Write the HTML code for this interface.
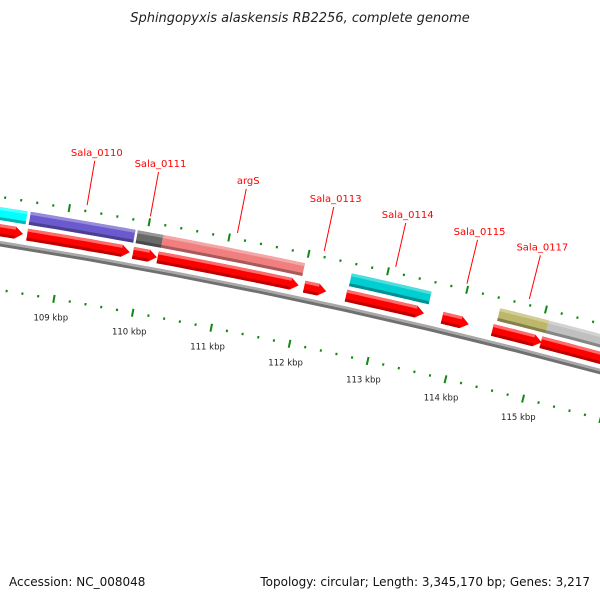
<!DOCTYPE html>
<html><head><meta charset="utf-8"><style>
html,body{margin:0;padding:0;background:#fff}
svg{display:block}
text{font-family:"DejaVu Sans","Liberation Sans",sans-serif}
</style></head><body>
<svg id="c" width="600" height="600" viewBox="0 0 600 600">
<rect width="600" height="600" fill="#fff"/>
<text x="300" y="22" text-anchor="middle" font-size="13" font-style="italic" fill="#222">Sphingopyxis alaskensis RB2256, complete genome</text>
<text x="9" y="586" font-size="12" fill="#111">Accession: NC_008048</text>
<text x="590" y="586" text-anchor="end" font-size="12" fill="#111">Topology: circular; Length: 3,345,170 bp; Genes: 3,217</text>
<g id="map"></g>
</svg>
<script>
// data (positions in kbp)
const geneStarts = [107.0, 108.54, 109.87, 110.18, 112.03, 112.56, 113.78, 114.42, 115.04];
const geneEnds   = [108.49, 109.83, 110.17, 111.96, 112.31, 113.55, 114.12, 115.05, 116.5];
const cogStarts = [107.0, 108.54, 109.88, 110.2, 112.57, 114.45, 115.07];
const cogEnds   = [108.5, 109.85, 110.2, 111.98, 113.58, 115.07, 116.5];
const cogColors = ["#00ffff", "#6a5acd", "#696969", "#f08080", "#00ced1", "#bdb76b", "#c0c0c0"];
const geneLabels = ["Sala_0110", "Sala_0111", "argS", "Sala_0113", "Sala_0114", "Sala_0115", "Sala_0117"];
const labelPos = [109.21, 110.0, 111.09, 112.18, 113.08, 113.98, 114.77];
const tickLabels = [109, 110, 111, 112, 113, 114, 115];

const NS = "http://www.w3.org/2000/svg";
const g = document.getElementById("map");
const PX = 80.6, K = 0.8 * Math.PI / 180, R = PX / K;
function phi(p) { return (12 * Math.PI / 180) + (p - 112) * K; }
const a0 = phi(110);
const C = [141 - R * Math.sin(a0), 267.5 + R * Math.cos(a0)];
function pt(p, d) { const f = phi(p); return [C[0] + (R + d) * Math.sin(f), C[1] - (R + d) * Math.cos(f)]; }
function mk(tag, attrs) { const e = document.createElementNS(NS, tag); for (const k in attrs) e.setAttribute(k, attrs[k]); g.appendChild(e); return e; }
function band(p1, p2, d1, d2) {
  const pts = []; const n = 12;
  for (let i = 0; i <= n; i++) pts.push(pt(p1 + (p2 - p1) * i / n, d2));
  for (let i = n; i >= 0; i--) pts.push(pt(p1 + (p2 - p1) * i / n, d1));
  return pts.map(q => q[0].toFixed(1) + "," + q[1].toFixed(1)).join(" ");
}
function shade(hex, f) {
  const n = parseInt(hex.slice(1), 16); let r = n >> 16, gg = (n >> 8) & 255, b = n & 255;
  if (f > 0) { r += (255 - r) * f; gg += (255 - gg) * f; b += (255 - b) * f; } else { r *= 1 + f; gg *= 1 + f; b *= 1 + f; }
  return "rgb(" + Math.round(r) + "," + Math.round(gg) + "," + Math.round(b) + ")";
}

// backbone
let e = mk("polygon", { points: band(105, 118, -3, 0), fill: "#707070" });


e = mk("polygon", { points: band(105, 118, 0, 2.5), fill: "#a8a8a8" });



// COG bands
for (let i = 0; i < cogStarts.length; i++) {
  const col = cogColors[i];
  let b = mk("polygon", { points: band(cogStarts[i], cogEnds[i], 23, 36), fill: col });
  
  
  b = mk("polygon", { points: band(cogStarts[i], cogEnds[i], 33, 36), fill: shade(col, 0.3) });
  
  
  b = mk("polygon", { points: band(cogStarts[i], cogEnds[i], 23, 26), fill: shade(col, -0.3) });
  
  
}

// gene arrows
const HEAD = 8 / PX;
for (let i = 0; i < geneStarts.length; i++) {
  const s = geneStarts[i], en = geneEnds[i], hs = Math.max(s, en - HEAD);
  const body = band(s, hs, 7, 19).split(" ");
  const tip = pt(en, 13);
  const half = body.length / 2;
  const pts = body.slice(0, half).concat([tip[0].toFixed(1) + "," + tip[1].toFixed(1)]).concat(body.slice(half));
  let a = mk("polygon", { points: pts.join(" "), fill: "#ff0000" });
  
  
  a = mk("polygon", { points: band(s, hs, 16, 19), fill: "#ff6a6a" });
  
  
  a = mk("polygon", { points: band(s, hs, 7, 10), fill: "#c00000" });
  
  
}

// ticks (every 0.2 kbp, major every 1 kbp)
for (let k = 530; k <= 590; k++) {
  const major = (k % 5 === 0);
  const p2 = k / 5;
  [46, -46].forEach(dc => {
    const l = major ? 4 : 1.2;
    const q1 = pt(p2, dc - l), q2 = pt(p2, dc + l);
    const t = mk("line", { x1: q1[0], y1: q1[1], x2: q2[0], y2: q2[1], stroke: "#118811", "stroke-width": 2 });
    
    
  });
}
tickLabels.forEach(v => {
  const q = pt(v, -65);
  const t = mk("text", { x: q[0], y: q[1] + 3, "text-anchor": "middle", "font-size": 8.5, fill: "#222" });
  t.textContent = v + " kbp";
  
  
});

// gene labels
for (let i = 0; i < geneLabels.length; i++) {
  const q1 = pt(labelPos[i], 52), q2 = pt(labelPos[i], 97);
  const l = mk("line", { x1: q1[0], y1: q1[1], x2: q2[0], y2: q2[1], stroke: "#ff0000", "stroke-width": 1 });
  
  
  const t = mk("text", { x: q2[0] + 2, y: q2[1] - 5, "text-anchor": "middle", "font-size": 10, fill: "#ff0000" });
  t.textContent = geneLabels[i];
  
  
}
</script>
</body></html>
